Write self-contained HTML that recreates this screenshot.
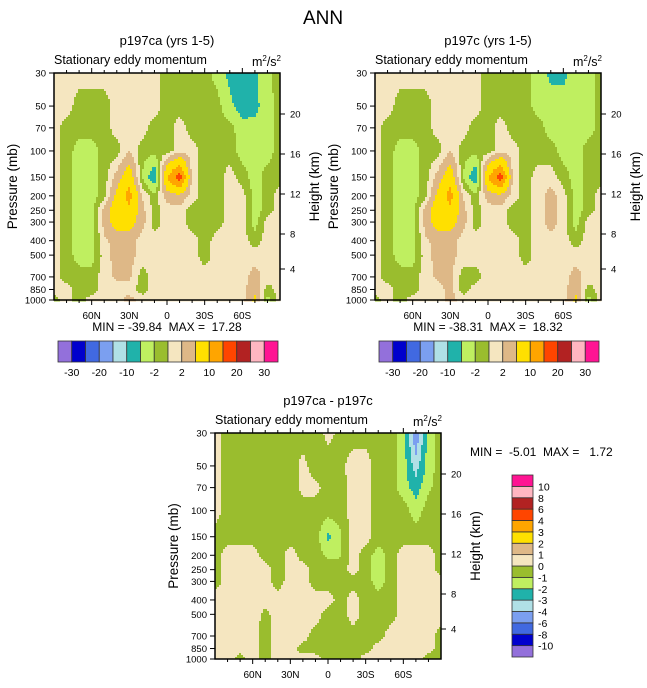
<!DOCTYPE html>
<html><head><meta charset="utf-8"><style>
html,body{margin:0;padding:0;background:#fff;}
svg text{font-family:"Liberation Sans",sans-serif;fill:#000;white-space:pre;}
</style></head><body>
<svg id="fig" width="647" height="683" viewBox="0 0 647 683" xmlns="http://www.w3.org/2000/svg">
<text x="323" y="24" font-size="19" text-anchor="middle">ANN</text>
</svg>
<script>
// ---- data ----
const lats = [90,80,70,60,50,40,30,20,10,0,-10,-20,-30,-40,-50,-60,-70,-80,-90];
const levels = [30,50,70,100,150,200,250,300,400,500,700,850,1000];
const colors = ["#9370DB","#0000CD","#4169E1","#7B9FF0","#B0E0E6","#20B2AA","#BFEF60","#9ABD2E","#F5E6C0","#DEB887","#FFE000","#FFA500","#FF4500","#B22222","#FFB6C1","#FF1493"];
const topThresholds = [-30,-25,-20,-15,-10,-5,-2,0,2,5,10,15,20,25,30];
const topLabels = ["-30","-20","-10","-2","2","10","20","30"];
const diffThresholds = [-10,-8,-6,-4,-3,-2,-1,0,1,2,3,4,6,8,10];
const pressureTicks = [30,50,70,100,150,200,250,300,400,500,700,850,1000];
const heightTicks = [20,16,12,8,4];
const heightOffsets = [41,81,121,161,196];
const latTicks = ["60N","30N","0","30S","60S"];
const latTickVals = [60,30,0,-30,-60];

const gridA = [
[1,1,1,1,1,1,1,1,1,-1,-1,-1,-1,-3,-6,-9,-6,-2.5,-1],
[1,1,-1,-1,-1,1,1,1,1,-1,-1,-1,-1,-1,-4,-7,-6,-3,-1],
[1,-1,-1,-1,-1,1,1,1,-1,-1,1,-1,-1,-1,-1,-3.5,-4,-3,-1],
[1,-1,-3,-3,-1,-1,2,-1,-1,-1,1,1,-1,-1,-1,-3,-3,-3,-1],
[1,-1,-3,-3,-1,3,8,-2,-8,10,18,1,-1,-1,1,-1,-3,-1,-1],
[1,-1,-3,-3,-1,6,12,2,-1,3,4,1,-1,-1,1,1,-3,-1,1],
[1,-1,-3,-3,3,8,9,3,-1,1,1,-1,-1,-1,1,1,-3,-1,1],
[1,-1,-3,-3,3,7,7,3,-1,1,1,-1,-1,-1,1,1,-3,1,1],
[1,-1,-3,-3,1.5,3,3,1,1,1,1,1,-1,1,1,1,-1,1,1],
[1,-1,-3,-3,1,3,3,1,1,1,1,1,-1,1,1,1,1,1,1],
[1,-1,-1,-1,1,2.5,2.5,-1,1,1,1,1,1,1,1,1,3,1,1],
[1,1,-1,-1,1,1,1,-1,1,1,1,1,1,1,1,1,4,-1,1],
[-1,1,-1,1,1,1,3,1,1,1,1,1,1,1,1,1,6,-3,1]];
const gridB = [
[1,1,1,1,1,1,1,1,1,-1,-1,-1,-1,-3,-6,-6,-3,-3,-1],
[1,1,-1,-1,-1,1,1,1,1,-1,-1,-1,-1,-3,-3,-3.5,-3,-3,-1],
[1,-1,-1,-1,-1,1,1,1,-1,-1,1,-1,-1,-1,-3,-3,-3,-3,-1],
[1,-1,-3,-3,-1,-1,2,-1,-1,-1,1,1,-1,-1,-1,-3,-3,-1,-1],
[1,-1,-3,-3,-1,3,8,-2,-8,10,18,1,-1,1,1,-1,-3,-1,-1],
[1,-1,-3,-3,-1,6,12,2,-1,3,4,1,-1,1,3,1,-3,-1,1],
[1,-1,-3,-3,3,8,9,3,-1,1,1,-1,-1,1,3,1,-3,-1,1],
[1,-1,-3,-3,3,7,7,3,-1,1,1,-1,-1,1,3,1,-3,1,1],
[1,-1,-3,-3,1.5,3,3,1,1,1,1,1,-1,1,1,1,-1,1,1],
[1,-1,-3,-3,1,3,3,1,1,1,1,1,-1,1,1,1,1,1,1],
[1,-1,-1,-1,1,2.5,2.5,-1,-1,1,1,1,1,1,1,1,3,1,1],
[1,1,-1,-1,1,1,3,-1,1,1,1,1,1,1,1,1,4,-1,1],
[-1,1,-1,1,1,1,3,1,1,1,1,1,1,1,1,1,6,-3,1]];
const gridD = [
[0.5,-0.5,-0.5,-0.5,-0.5,-0.5,-0.5,-0.5,-0.5,0.3,-0.3,-0.5,-0.5,-0.5,-0.5,-1.5,-5,-1.5,-0.5],
[0.5,-0.5,-0.5,-0.5,-0.5,-0.5,-0.5,0.3,-0.5,-0.5,-0.3,0.5,0.5,-0.5,-0.5,-1.5,-3.5,-1.5,-0.5],
[0.5,-0.5,-0.5,-0.5,-0.5,-0.5,-0.5,0.3,0.3,-0.5,-0.5,0.5,0.5,-0.5,-0.5,-1.5,-2.5,-1.2,-0.5],
[0.5,-0.5,-0.5,-0.5,-0.5,-0.5,-0.5,-0.5,-0.5,-0.5,-0.5,0.5,0.5,-0.5,-0.5,-0.5,-1.5,-0.5,-0.5],
[-0.5,-0.5,-0.5,-0.5,-0.5,-0.5,-0.5,-0.5,-0.5,-2.3,-1.2,0.5,0.5,-0.5,-0.5,-0.5,-0.5,-0.5,-0.5],
[-0.5,0.5,0.5,0.5,-0.5,-0.5,0.5,-0.5,-0.5,-1.2,-1.1,0.5,-0.5,-1.5,-0.5,0.5,0.5,0.5,-0.5],
[-0.5,0.5,0.5,0.5,0.5,-0.5,0.5,0.5,-0.5,-0.5,-0.5,0.5,-0.5,-1.5,-0.5,0.5,0.5,0.5,-0.5],
[-0.5,0.5,0.5,0.5,0.5,-0.5,0.5,0.5,-0.5,-0.5,-0.5,-0.5,-0.5,-1.5,-0.5,0.5,0.5,0.5,0.5],
[0.5,0.5,0.5,0.5,0.5,0.5,0.5,0.5,0.5,0.5,-0.5,0.5,-0.5,-0.5,-0.5,0.5,0.5,0.5,0.5],
[0.5,0.5,0.5,0.5,-0.3,0.5,0.5,0.5,0.5,-0.5,-0.5,0.5,-0.5,-0.5,-0.5,0.5,0.5,0.5,0.5],
[0.5,0.5,0.5,0.5,-0.5,0.5,0.5,0.5,-0.5,-0.5,-0.5,-0.5,-0.5,-0.5,0.5,0.5,0.5,0.5,-0.5],
[0.5,0.5,0.5,0.5,-0.5,0.5,0.5,-0.5,-0.5,-0.5,-0.5,-0.5,-0.5,0.5,0.5,0.5,0.5,0.5,-0.5],
[0.5,0.5,-0.5,0.5,-0.5,0.5,0.5,0.5,0.5,-0.5,-0.5,-0.5,0.5,0.5,0.5,0.5,0.5,-0.5,-0.5]];

const NS = "http://www.w3.org/2000/svg";
const fig = document.getElementById("fig");
function el(tag, attrs, parent, txt){
  const e = document.createElementNS(NS, tag);
  for (const k in attrs) e.setAttribute(k, attrs[k]);
  if (txt !== undefined) e.textContent = txt;
  (parent||fig).appendChild(e);
  return e;
}
function levelIndex(v, th){ let i=0; while(i<th.length && v>=th[i]) i++; return i; }
function sample(grid, lat, p){
  let fx = (90-lat)/10; fx = Math.max(0, Math.min(18, fx));
  const lp = Math.log(p);
  let j = 0; while (j < levels.length-2 && Math.log(levels[j+1]) < lp) j++;
  let fy = (lp - Math.log(levels[j]))/(Math.log(levels[j+1])-Math.log(levels[j]));
  fy = Math.max(0, Math.min(1, fy));
  const i = Math.min(17, Math.floor(fx)); const tx = fx - i;
  const a = grid[j][i]*(1-tx)+grid[j][i+1]*tx;
  const b = grid[j+1][i]*(1-tx)+grid[j+1][i+1]*tx;
  return a*(1-fy)+b*fy;
}

function drawPanel(cfg){
  const {x0,y0,w,h,grid,th,title,name} = cfg;
  const g = el("g", {}, fig);
  
  
  const xOf = lat => x0 + (90-lat)/180*w;
  const yOf = p => y0 + Math.log10(p/30)/Math.log10(1000/30)*h;
  const step = 2;
  for (let py = 0; py < h; py += step) {
    const p = 30*Math.pow(1000/30, (py+step/2)/h);
    let runStart = 0, runIdx = -1;
    for (let px = 0; px <= w; px += step) {
      let idx = -2;
      if (px < w) { const lat = 90 - (px+step/2)/w*180; idx = levelIndex(sample(grid, lat, p), th); }
      if (idx !== runIdx) {
        if (runIdx >= 0) {
          const r = el("rect", {x: x0+runStart, y: y0+py, width: Math.min(px,w)-runStart+0.5, height: step+0.5, fill: colors[runIdx]}, g);
          
          
        }
        runStart = px; runIdx = idx;
      }
    }
  }
  const fr = el("rect", {x:x0, y:y0, width:w, height:h, fill:"none", stroke:"#000", "stroke-width":1.5}, g);
  
  
  for (let lat = 80; lat >= -80; lat -= 10) {
    const x = xOf(lat); const major = lat % 30 === 0;
    const L = major ? 5 : 3;
    el("line", {x1:x, y1:y0+h, x2:x, y2:y0+h+L, stroke:"#000", "stroke-width":1}, g);
    el("line", {x1:x, y1:y0, x2:x, y2:y0-L, stroke:"#000", "stroke-width":1}, g);
  }
  latTicks.forEach((t,k)=>{
    const tl = el("text", {x:xOf(latTickVals[k]), y:y0+h+19, "font-size":10, "text-anchor":"middle"}, g, t);
    
    
  });
  pressureTicks.forEach(p=>{
    const y = yOf(p);
    el("line", {x1:x0, y1:y, x2:x0-5, y2:y, stroke:"#000", "stroke-width":1}, g);
    const tl = el("text", {x:x0-8, y:y+3.5, "font-size":9.5, "text-anchor":"end"}, g, String(p));
    
    
  });
  heightTicks.forEach((hk,k)=>{
    const y = y0 + heightOffsets[k];
    el("line", {x1:x0+w, y1:y, x2:x0+w+5, y2:y, stroke:"#000", "stroke-width":1}, g);
    const tl = el("text", {x:x0+w+10, y:y+3.5, "font-size":9.5}, g, String(hk));
    
    
  });
  const t1 = el("text", {x:x0+w/2, y:y0-28, "font-size":13, "text-anchor":"middle"}, g, title);
  
  
  const t2 = el("text", {x:x0, y:y0-9, "font-size":12.5}, g, "Stationary eddy momentum");
  
  
  const t3 = el("text", {x:x0+w+1, y:y0-7, "font-size":12.5, "text-anchor":"end"}, g);
  t3.innerHTML = 'm<tspan font-size="8" dy="-5">2</tspan><tspan dy="5">/s</tspan><tspan font-size="8" dy="-5">2</tspan>';
  
  
  const yl = el("text", {x:0, y:0, "font-size":13.5, "text-anchor":"middle", transform:`translate(${x0-37},${y0+h/2}) rotate(-90)`}, g, "Pressure (mb)");
  
  
  const yr = el("text", {x:0, y:0, "font-size":13.5, "text-anchor":"middle", transform:`translate(${x0+w+39},${y0+h/2}) rotate(-90)`}, g, "Height (km)");
  
  
}

function hbar(x0, y0, name){
  const g = el("g", {}, fig);
  
  
  const bw = 220/16;
  colors.forEach((c,i)=>{
    const r = el("rect", {x:x0+i*bw, y:y0, width:bw, height:21, fill:c, stroke:"#333", "stroke-width":0.8}, g);
    
    
  });
  topLabels.forEach((t,k)=>{
    const tl = el("text", {x:x0+(2*k+1)*bw, y:y0+35, "font-size":10.5, "text-anchor":"middle"}, g, t);
    
    
  });
}

drawPanel({x0:54,y0:73,w:226,h:227,grid:gridA,th:topThresholds,title:"p197ca (yrs 1-5)",name:"panel-p197ca"});
drawPanel({x0:375,y0:73,w:226,h:227,grid:gridB,th:topThresholds,title:"p197c (yrs 1-5)",name:"panel-p197c"});
drawPanel({x0:215,y0:433,w:226,h:226,grid:gridD,th:diffThresholds,title:"p197ca - p197c",name:"panel-difference"});

const m1 = el("text", {x:167, y:331, "font-size":12, "text-anchor":"middle"}, fig, "MIN = -39.84  MAX =  17.28");


const m2 = el("text", {x:488, y:331, "font-size":12, "text-anchor":"middle"}, fig, "MIN = -38.31  MAX =  18.32");


const m3 = el("text", {x:470, y:456, "font-size":12}, fig, "MIN =  -5.01  MAX =   1.72");



hbar(58, 341, "colorbar-p197ca");
hbar(379, 341, "colorbar-p197c");

const vg = el("g", {}, fig);


const vbh = 182/16;
colors.forEach((c,i)=>{
  const r = el("rect", {x:512, y:475+(15-i)*vbh, width:21, height:vbh, fill:c, stroke:"#333", "stroke-width":0.8}, vg);
  
  
});
diffThresholds.forEach((t,k)=>{
  const tl = el("text", {x:538, y:475+(15-k)*vbh+4, "font-size":10.5}, vg, String(t));
  
  
});
</script>
</body></html>
